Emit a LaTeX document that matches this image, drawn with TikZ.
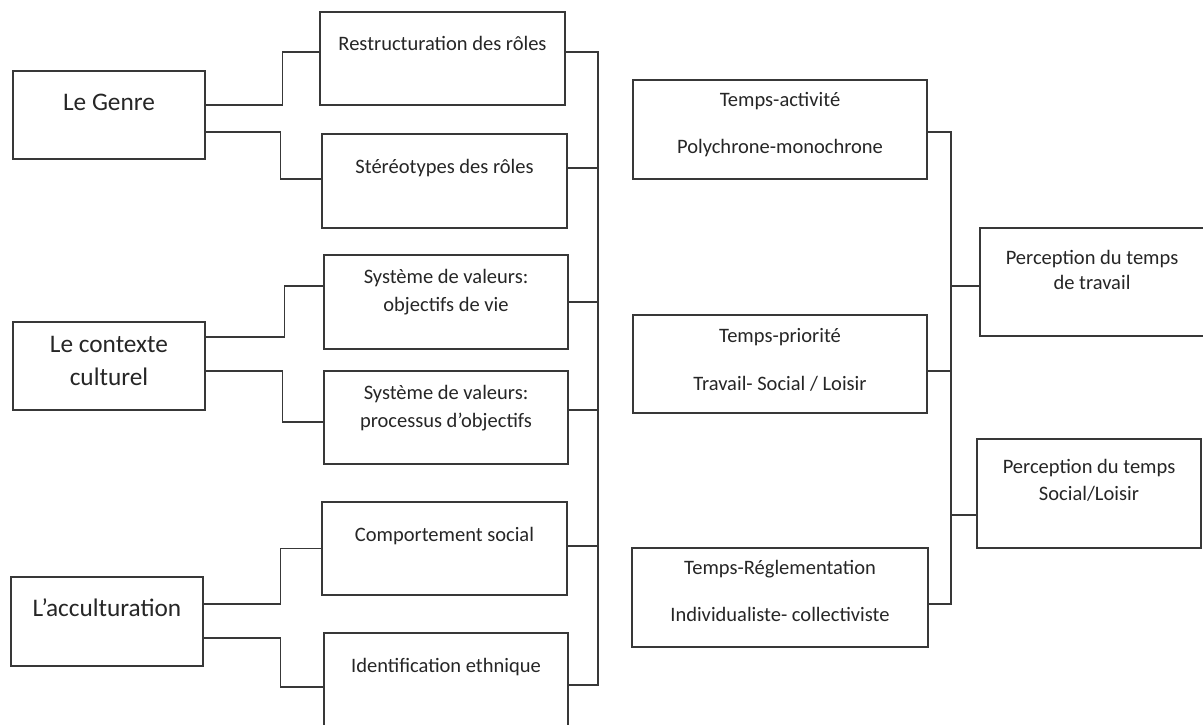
\documentclass[tikz,border=0pt]{standalone}
\usepackage{fontspec}
\setmainfont{Carlito}
\begin{document}
\begin{tikzpicture}[x=1pt,y=-1pt,
  box/.style={draw=black!78, line width=1.5pt, inner sep=0pt, fill=none},
  conn/.style={draw=black!78, line width=1.4pt},
  txt/.style={text=black!85, inner sep=0pt, align=center, anchor=base, font={\fontsize{20.5}{28}\selectfont}},
  bigtxt/.style={txt, font={\fontsize{25.3}{33}\selectfont}}]
\useasboundingbox (0,0) rectangle (1203,724);
\fill[white] (0,0) rectangle (1203,724);
\begin{scope}
\clip (0,0) rectangle (1203,724);
% left column
\node[box, minimum width=192, minimum height=88] (genre) at (109,115) {};
\node[box, minimum width=192, minimum height=88] (contexte) at (109,366) {};
\node[box, minimum width=192, minimum height=89] (accult) at (107,621.5) {};
% middle column
\node[box, minimum width=245, minimum height=93] (restr) at (442.5,58.5) {};
\node[box, minimum width=245, minimum height=94] (stereo) at (444.5,181) {};
\node[box, minimum width=244, minimum height=94] (sysobj) at (446,302) {};
\node[box, minimum width=244, minimum height=93] (sysproc) at (446,417.5) {};
\node[box, minimum width=245, minimum height=93] (comport) at (444.5,548.5) {};
\node[box, minimum width=244, minimum height=97] (ident) at (446,681.5) {};
% temps column
\node[box, minimum width=294, minimum height=99] (tact) at (780,129.5) {};
\node[box, minimum width=294, minimum height=98] (tprio) at (780,364) {};
\node[box, minimum width=296, minimum height=99] (treg) at (780,597.5) {};
% perception column
\node[box, minimum width=225, minimum height=108] (ptrav) at (1092.5,282) {};
\node[box, minimum width=224, minimum height=109] (psoc) at (1089,493.5) {};
\end{scope}

% texts (anchor=base is the baseline of the last line)
\node[bigtxt] (genreT) at (109,110) {Le Genre};
\node[bigtxt] (contexteT) at (109,385) {Le contexte\\culturel};
\node[bigtxt] (accultT) at (107,616) {L’acculturation};

\node[txt] (restrT) at (442.5,50) {Restructuration des rôles};
\node[txt] (stereoT) at (444.5,173) {Stéréotypes des rôles};
\node[txt] (sysobjT) at (446,311) {Système de valeurs:\\objectifs de vie};
\node[txt] (sysprocT) at (446,427) {Système de valeurs:\\processus d’objectifs};
\node[txt] (comportT) at (444.5,541) {Comportement social};
\node[txt] (identT) at (446,672) {Identification ethnique};

\node[txt] (tactT) at (780,153) {Temps-activité\\[19pt]Polychrone-monochrone};
\node[txt] (tprioT) at (780,390) {Temps-priorité\\[20pt]Travail- Social / Loisir};
\node[txt] (tregT) at (780,621) {Temps-Réglementation\\[19pt]Individualiste- collectiviste};

\node[txt, font={\fontsize{20.5}{25}\selectfont}] (ptravT) at (1092,289) {Perception du temps\\de travail};
\node[txt, font={\fontsize{20.5}{27}\selectfont}] (psocT) at (1089,500) {Perception du temps\\Social/Loisir};

% bus coordinates
\coordinate (busL) at (598,0);
\coordinate (busR) at (951,0);

% left connectors
\draw[conn] ([yshift=10pt]genre.east) -- ++(77,0) |- ([yshift=6.5pt]restr.west);
\draw[conn] ([yshift=-17pt]genre.east) -- ++(75,0) |- ([yshift=2pt]stereo.west);
\draw[conn] ([yshift=29pt]contexte.east) -- ++(79,0) |- ([yshift=16pt]sysobj.west);
\draw[conn] ([yshift=-5pt]contexte.east) -- ++(77,0) |- ([yshift=-4.5pt]sysproc.west);
\draw[conn] ([yshift=17.5pt]accult.east) -- ++(77,0) |- (comport.west);
\draw[conn] ([yshift=-16.5pt]accult.east) -- ++(77,0) |- ([yshift=-5.5pt]ident.west);

% middle bus
\draw[conn] ([yshift=6.5pt]restr.east) -- ([yshift=6.5pt]restr.east -| busL) |- ([yshift=-3.5pt]ident.east);
\draw[conn] ([yshift=13pt]stereo.east) -- ([yshift=13pt]stereo.east -| busL);
\draw[conn] (sysobj.east) -- (sysobj.east -| busL);
\draw[conn] ([yshift=7.5pt]sysproc.east) -- ([yshift=7.5pt]sysproc.east -| busL);
\draw[conn] ([yshift=2.5pt]comport.east) -- ([yshift=2.5pt]comport.east -| busL);

% right bus
\draw[conn] ([yshift=-2.5pt]tact.east) -- ([yshift=-2.5pt]tact.east -| busR) |- ([yshift=-6.5pt]treg.east);
\draw[conn] ([yshift=-7pt]tprio.east) -- ([yshift=-7pt]tprio.east -| busR);
\draw[conn] ([yshift=-4pt]ptrav.west -| busR) -- ([yshift=-4pt]ptrav.west);
\draw[conn] ([yshift=-21.5pt]psoc.west -| busR) -- ([yshift=-21.5pt]psoc.west);
\end{tikzpicture}
\end{document}
